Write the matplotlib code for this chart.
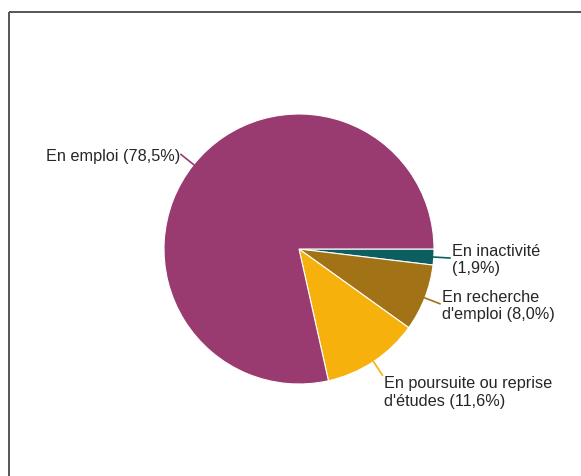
import numpy as np
import matplotlib
matplotlib.use("Agg")
import matplotlib.pyplot as plt

# Données
categories = ["En inactivité", "En recherche\nd'emploi", "En poursuite ou reprise\nd'études", "En emploi"]
valeurs = [1.9, 8.0, 11.6, 78.5]
couleurs = ["#0c5f61", "#a27316", "#f6b10d", "#993b70"]
retour_ligne = [True, False, False, False]  # pourcentage sur une nouvelle ligne

W, H = 581, 477
fig = plt.figure(figsize=(W / 100, H / 100), dpi=100)
ax = fig.add_axes([0, 0, 1, 1])

cx, cy, r = 299, H - 250, 135
wedges, _ = ax.pie(valeurs, colors=couleurs, startangle=0, counterclock=False,
                   center=(cx, cy), radius=r, frame=True,
                   wedgeprops=dict(edgecolor="white", linewidth=0.8))
ax.set_xlim(0, W)
ax.set_ylim(0, H)
ax.set_aspect("equal")
ax.axis("off")

# Cadre (haut + gauche)
ax.plot([9, W], [H - 12.5, H - 12.5], color="#555555", lw=1.4, solid_capstyle="butt")
ax.plot([9, 9], [H - 12.5, 0], color="#555555", lw=1.4, solid_capstyle="butt")

# Étiquettes avec traits de rappel
for w, cat, val, col, nl in zip(wedges, categories, valeurs, couleurs, retour_ligne):
    ang = np.deg2rad((w.theta1 + w.theta2) / 2)
    x0, y0 = cx + r * np.cos(ang), cy + r * np.sin(ang)
    x1, y1 = cx + 1.12 * r * np.cos(ang), cy + 1.12 * r * np.sin(ang)
    ax.plot([x0, x1], [y0, y1], color=col, lw=1.2)
    pct = f"({val:.1f}%)".replace(".", ",")
    txt = cat + ("\n" if nl else " ") + pct
    if np.cos(ang) >= 0:
        ha, tx = "left", x1 + 2
    else:
        ha, tx = "right", x1 - 1
    va = "center"
    ty = y1
    if np.sin(ang) < -0.7:
        va = "top"
        ty = y1 + 1
    ax.text(tx, ty - 1, txt, ha=ha, va=va, fontsize=11.7, family="Liberation Sans",
            color="#262626", linespacing=1.2)

fig.savefig("out.png", dpi=100)
